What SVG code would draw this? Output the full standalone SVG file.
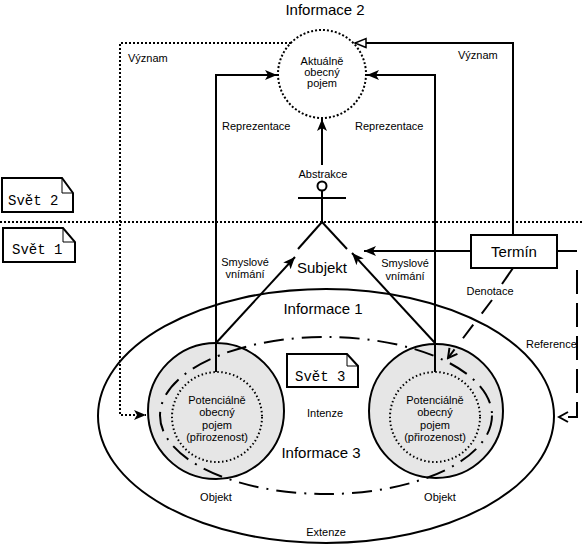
<svg xmlns="http://www.w3.org/2000/svg" width="583" height="554" viewBox="0 0 583 554">
<style>
text{font-family:"Liberation Sans",Arial,sans-serif;fill:#000}
.s{font-size:11px}
.m{font-size:15px}
.c{text-anchor:middle}
.mono{font-family:"Liberation Mono","Courier New",monospace;font-size:14px}
.ln{fill:none;stroke:#000;stroke-width:2}
.dot{fill:none;stroke:#000;stroke-width:2;stroke-dasharray:2,2}
.fine{fill:none;stroke:#000;stroke-width:2;stroke-dasharray:1.5,2.5}
.note{fill:#fff;stroke:#000;stroke-width:2}
</style>
<defs>
<marker id="fa" markerUnits="userSpaceOnUse" markerWidth="13" markerHeight="11" refX="12" refY="5" orient="auto">
<path d="M0,0 L12,5 L0,10 L3,5 z" fill="#000"/>
</marker>
<marker id="ha" markerUnits="userSpaceOnUse" markerWidth="14" markerHeight="12" refX="12" refY="5.5" orient="auto">
<path d="M1,1 L12,5.5 L1,10 z" fill="#fff" stroke="#000" stroke-width="1.5"/>
</marker>
<marker id="oa" markerUnits="userSpaceOnUse" markerWidth="12" markerHeight="12" refX="10" refY="6" orient="auto">
<path d="M1,1 L10,6 L1,11" fill="none" stroke="#000" stroke-width="2"/>
</marker>
</defs>
<rect width="583" height="554" fill="#fff"/>

<!-- world separator -->
<line x1="0" y1="222" x2="583" y2="222" class="dot"/>

<g id="informace1">
<ellipse cx="326" cy="416" rx="228" ry="127" class="ln"/>
<text x="323" y="314" class="m c">Informace 1</text>
<text x="326" y="536" class="s c">Extenze</text>
</g>

<g id="objekt-left">
<circle cx="216" cy="411" r="68" fill="#e6e6e6" stroke="#000" stroke-width="2"/>
<circle cx="217" cy="417" r="45" class="fine"/>
<text x="217" y="404" class="s c">Potenciálně</text>
<text x="217" y="416" class="s c">obecný</text>
<text x="217" y="429" class="s c">pojem</text>
<text x="217" y="441" class="s c">(přirozenost)</text>
<text x="216" y="501" class="s c">Objekt</text>
</g>

<g id="objekt-right">
<circle cx="436" cy="411" r="67" fill="#e6e6e6" stroke="#000" stroke-width="2"/>
<circle cx="435" cy="417" r="45" class="fine"/>
<text x="435" y="404" class="s c">Potenciálně</text>
<text x="435" y="416" class="s c">obecný</text>
<text x="435" y="429" class="s c">pojem</text>
<text x="435" y="441" class="s c">(přirozenost)</text>
<text x="440" y="501" class="s c">Objekt</text>
</g>

<g id="informace3">
<ellipse cx="326" cy="415.5" rx="166" ry="78.5" fill="none" stroke="#000" stroke-width="2" stroke-dasharray="20,8,2,8"/>
<text x="321" y="458" class="m c">Informace 3</text>
<text x="325" y="417" class="s c">Intenze</text>
</g>

<g id="informace2">
<circle cx="322" cy="74" r="44" fill="#fff" class="dot"/>
<text x="322" y="65" class="s c">Aktuálně</text>
<text x="322" y="76" class="s c">obecný</text>
<text x="322" y="87" class="s c">pojem</text>
<text x="325" y="15" class="m c">Informace 2</text>
</g>

<g id="subjekt">
<circle cx="322" cy="186" r="4.5" fill="#fff" stroke="#000" stroke-width="2"/>
<line x1="298" y1="198" x2="346" y2="198" class="ln"/>
<line x1="322" y1="190.5" x2="322" y2="222" class="ln"/>
<line x1="322" y1="222" x2="298" y2="249" class="ln"/>
<line x1="322" y1="222" x2="347" y2="249" class="ln"/>
<text x="322" y="273" class="m c">Subjekt</text>
<text x="323" y="178" class="s c">Abstrakce</text>
</g>

<g id="termin">
<rect x="471" y="235" width="86" height="33" class="note"/>
<text x="514" y="257" class="m c">Termín</text>
</g>

<g id="svet2">
<path d="M2,178 H62 L73,193 V212 H2 Z" class="note"/>
<path d="M62,178 V193 H73" fill="none" stroke="#000" stroke-width="1"/>
<text x="8" y="205" class="mono">Svět 2</text>
</g>
<g id="svet1">
<path d="M3,228 H63 L75,242 V262 H3 Z" class="note"/>
<path d="M63,228 V242 H75" fill="none" stroke="#000" stroke-width="1"/>
<text x="12" y="254" class="mono">Svět 1</text>
</g>
<g id="svet3">
<path d="M287,354 H347 L358,366 V387 H287 Z" class="note"/>
<path d="M347,354 V366 H358" fill="none" stroke="#000" stroke-width="1"/>
<text x="295" y="381" class="mono">Svět 3</text>
</g>

<g id="connectors">
<!-- Význam (dotted, left) -->
<path d="M291,43 H120 V415 H146" class="dot" marker-end="url(#fa)"/>
<text x="128" y="62" class="s">Význam</text>
<!-- Význam (right) -->
<path d="M513,235 V43 H355" class="ln" marker-end="url(#ha)"/>
<text x="458" y="59" class="s">Význam</text>
<!-- Reprezentace -->
<path d="M216,372 V75 H277" class="ln" marker-end="url(#fa)"/>
<text x="222" y="130" class="s">Reprezentace</text>
<path d="M435,372 V75 H367" class="ln" marker-end="url(#fa)"/>
<text x="355" y="130" class="s">Reprezentace</text>
<!-- Abstrakce -->
<line x1="322" y1="165" x2="322" y2="119" class="ln" marker-end="url(#fa)"/>
<!-- Smyslové vnímání -->
<line x1="216" y1="343" x2="295" y2="257" class="ln" marker-end="url(#fa)"/>
<text x="245" y="266" class="s c">Smyslové</text>
<text x="245" y="278" class="s c">vnímání</text>
<line x1="435" y1="343" x2="352" y2="253" class="ln" marker-end="url(#fa)"/>
<line x1="471" y1="251" x2="364" y2="251" class="ln" marker-end="url(#fa)"/>
<text x="405" y="267" class="s c">Smyslové</text>
<text x="405" y="280" class="s c">vnímání</text>
<!-- Denotace -->
<line x1="513" y1="268" x2="502" y2="284" class="ln"/>
<line x1="492" y1="300" x2="448" y2="358" class="ln" stroke-dasharray="17,14" marker-end="url(#oa)"/>
<text x="490" y="295" class="s c">Denotace</text>
<!-- Reference -->
<line x1="557" y1="251" x2="577" y2="251" class="ln"/>
<path d="M577,270 V417 H559" class="ln" stroke-dasharray="24,9" marker-end="url(#oa)"/>
<text x="526" y="348" class="s">Reference</text>
</g>
</svg>
